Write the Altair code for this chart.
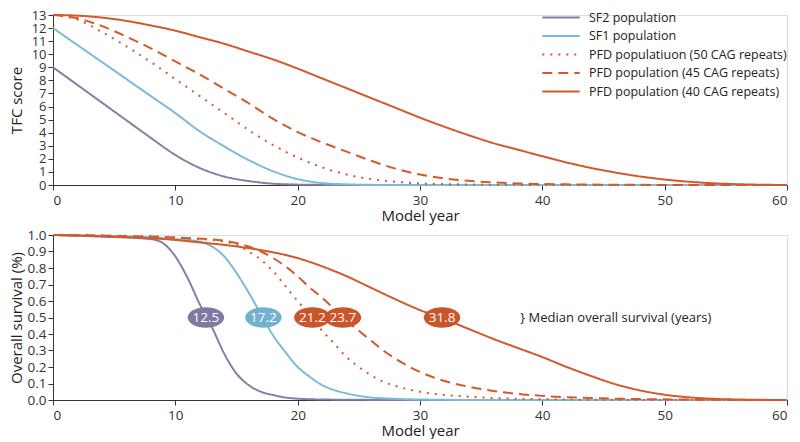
import altair as alt
import pandas as pd

FONT = "Open Sans"

series_names = [
    "SF2 population",
    "SF1 population",
    "PFD populatiuon (50 CAG repeats)",
    "PFD population (45 CAG repeats)",
    "PFD population (40 CAG repeats)",
]
series_colors = ["#857fa6", "#79bbd8", "#d3592b", "#d3592b", "#d3592b"]
series_dashes = [[1, 0], [1, 0], [2, 6], [10, 6], [1, 0]]

# ---- TFC score (top panel) ----
tfc_years = [0, 2, 4, 6, 8, 10, 12, 14, 16, 18, 20, 22, 24, 26, 28, 30,
             32, 34, 36, 38, 40, 42, 44, 46, 48, 50, 52, 54, 56, 58, 60]
tfc_sf2 = [9.0, 7.65, 6.3, 4.95, 3.6, 2.3, 1.3, 0.65, 0.3, 0.1, 0.03, 0.01, 0, 0, 0, 0,
           0, 0, 0, 0, 0, 0, 0, 0, 0, 0, 0, 0, 0, 0, 0]
tfc_sf1 = [12.0, 10.7, 9.4, 8.1, 6.8, 5.5, 4.1, 2.95, 1.9, 1.05, 0.45, 0.15, 0.05, 0.01, 0, 0,
           0, 0, 0, 0, 0, 0, 0, 0, 0, 0, 0, 0, 0, 0, 0]
tfc_pfd50 = [13.0, 12.65, 11.7, 10.6, 9.4, 8.1, 6.8, 5.5, 4.2, 3.05, 2.1, 1.35, 0.8, 0.45, 0.25, 0.12,
             0.07, 0.04, 0.02, 0.01, 0.005, 0, 0, 0, 0, 0, 0, 0, 0, 0, 0]
tfc_pfd45 = [13.0, 12.75, 12.15, 11.35, 10.45, 9.45, 8.45, 7.35, 6.25, 5.05, 4.05, 3.25, 2.55, 1.85, 1.25, 0.8,
             0.5, 0.32, 0.2, 0.12, 0.08, 0.05, 0.03, 0.02, 0.01, 0.005, 0, 0, 0, 0, 0]
tfc_pfd40 = [13.0, 12.95, 12.8, 12.55, 12.2, 11.8, 11.3, 10.8, 10.2, 9.6, 8.9, 8.15, 7.4, 6.65, 5.9, 5.15,
             4.45, 3.8, 3.2, 2.7, 2.2, 1.72, 1.3, 0.95, 0.65, 0.42, 0.25, 0.13, 0.06, 0.02, 0.0]

# ---- Overall survival (bottom panel) ----
os_years_sf2 = [0, 4, 8, 9, 10, 11, 12, 13, 14, 15, 16, 17, 18, 19, 20, 22, 25, 30, 60]
os_sf2 = [1.0, 0.99, 0.975, 0.95, 0.87, 0.74, 0.58, 0.44, 0.28, 0.16, 0.09, 0.05, 0.03, 0.015, 0.008, 0.003, 0.001, 0, 0]

os_years_sf1 = [0, 4, 8, 10, 12, 13, 14, 15, 16, 17, 18, 19, 20, 21, 22, 23, 24, 26, 28, 30, 35, 60]
os_sf1 = [1.0, 0.995, 0.985, 0.975, 0.96, 0.93, 0.87, 0.77, 0.65, 0.52, 0.39, 0.29, 0.2, 0.14, 0.09, 0.06, 0.04, 0.015, 0.007, 0.003, 0, 0]

os_years_pfd50 = [0, 5, 10, 12, 14, 15, 16, 17, 18, 19, 20, 21, 22, 23, 24, 25, 26, 27, 28, 30, 32, 34, 36, 40, 45, 60]
os_pfd50 = [1.0, 0.995, 0.985, 0.975, 0.96, 0.94, 0.9, 0.85, 0.78, 0.69, 0.6, 0.51, 0.42, 0.34, 0.26, 0.2, 0.15, 0.11, 0.085, 0.05, 0.03, 0.02, 0.012, 0.005, 0.001, 0]

os_years_pfd45 = [0, 5, 10, 14, 16, 17, 18, 19, 20, 21, 22, 23, 24, 25, 26, 27, 28, 30, 32, 34, 36, 38, 40, 45, 50, 55, 60]
os_pfd45 = [1.0, 0.995, 0.985, 0.965, 0.93, 0.9, 0.86, 0.81, 0.75, 0.68, 0.62, 0.55, 0.48, 0.42, 0.36, 0.3, 0.25, 0.17, 0.115, 0.08, 0.055, 0.037, 0.025, 0.01, 0.004, 0.001, 0]

os_years_pfd40 = [0, 5, 10, 12, 14, 16, 18, 20, 22, 24, 26, 28, 30, 32, 34, 36, 38, 40, 42, 44, 46, 48, 50, 52, 54, 56, 58, 60]
os_pfd40 = [1.0, 0.99, 0.97, 0.955, 0.94, 0.92, 0.895, 0.86, 0.81, 0.75, 0.68, 0.61, 0.545, 0.49, 0.43, 0.37, 0.315, 0.26, 0.2, 0.145, 0.095, 0.058, 0.032, 0.016, 0.007, 0.003, 0.001, 0]

median_values = [12.5, 17.2, 21.2, 23.7, 31.8]
median_labels = ["12.5", "17.2", "21.2", "23.7", "31.8"]
annotation_text = "} Median overall survival (years)"
annotation_x = 38.2

x_ticks = [0, 10, 20, 30, 40, 50, 60]
tfc_ticks = list(range(0, 14))
os_ticks = [0.0, 0.1, 0.2, 0.3, 0.4, 0.5, 0.6, 0.7, 0.8, 0.9, 1.0]

# ---- build tables ----
tfc_rows = []
for name, vals in zip(series_names, [tfc_sf2, tfc_sf1, tfc_pfd50, tfc_pfd45, tfc_pfd40]):
    for yr, v in zip(tfc_years, vals):
        tfc_rows.append({"year": yr, "value": v, "series": name})
tfc_df = pd.DataFrame(tfc_rows)

os_rows = []
for name, yrs, vals in zip(series_names,
                           [os_years_sf2, os_years_sf1, os_years_pfd50, os_years_pfd45, os_years_pfd40],
                           [os_sf2, os_sf1, os_pfd50, os_pfd45, os_pfd40]):
    for yr, v in zip(yrs, vals):
        os_rows.append({"year": yr, "value": v, "series": name})
os_df = pd.DataFrame(os_rows)

med_df = pd.DataFrame({"year": median_values, "value": [0.5] * 5,
                       "label": median_labels, "series": series_names})
ann_df = pd.DataFrame({"year": [annotation_x], "value": [0.5], "text": [annotation_text]})

W = 734
H_TOP = 170
H_BOT = 165
AX_COL = "#333333"
TICK_FS = 13.5

def x_enc():
    return alt.X("year:Q", scale=alt.Scale(domain=[0, 60], nice=False),
                 axis=alt.Axis(values=x_ticks, title="Model year", grid=False,
                               tickSize=5, labelPadding=3, titlePadding=2,
                               labelFontSize=TICK_FS, titleFontSize=15, titleFontWeight="normal",
                               labelFont=FONT, titleFont=FONT, labelOverlap=False,
                               domainColor=AX_COL, tickColor=AX_COL,
                               labelColor=AX_COL, titleColor="#222222"))

def y_axis(title, values, h, fmt, fs):
    return alt.Axis(values=values, title=title, grid=False, format=fmt,
                    tickSize=5, labelPadding=2, labelOverlap=False,
                    labelFontSize=fs, titleFontSize=15, titleFontWeight="normal",
                    labelFont=FONT, titleFont=FONT,
                    domainColor=AX_COL, tickColor=AX_COL,
                    labelColor=AX_COL, titleColor="#222222",
                    titleX=-37, titleY=h / 2, titleAngle=-90,
                    titleBaseline="middle", titleAlign="center")

legend_kw = dict(title=None, orient="none", legendX=488, legendY=-6,
                 symbolType="stroke", symbolSize=1400, symbolStrokeWidth=2,
                 labelFontSize=12.5, labelFont=FONT, labelColor="#222222",
                 labelOffset=8, rowPadding=1.5, clipHeight=17, labelLimit=400)

color_top = alt.Color("series:N", scale=alt.Scale(domain=series_names, range=series_colors),
                      legend=alt.Legend(**legend_kw))
dash_top = alt.StrokeDash("series:N", scale=alt.Scale(domain=series_names, range=series_dashes),
                          legend=alt.Legend(**legend_kw))

top = alt.Chart(tfc_df).mark_line(strokeWidth=2, interpolate="monotone").encode(
    x=x_enc(),
    y=alt.Y("value:Q", scale=alt.Scale(domain=[0, 13], nice=False),
            axis=y_axis("TFC score", tfc_ticks, H_TOP, "d", 13)),
    color=color_top,
    strokeDash=dash_top,
    order=alt.Order("year:Q"),
).properties(width=W, height=H_TOP)

color_bot = alt.Color("series:N", scale=alt.Scale(domain=series_names, range=series_colors), legend=None)
dash_bot = alt.StrokeDash("series:N", scale=alt.Scale(domain=series_names, range=series_dashes), legend=None)

def y_bot():
    return alt.Y("value:Q", scale=alt.Scale(domain=[0, 1], nice=False),
                 axis=y_axis("Overall survival (%)", os_ticks, H_BOT, ".1f", TICK_FS))

bot_lines = alt.Chart(os_df).mark_line(strokeWidth=2, interpolate="monotone").encode(
    x=x_enc(), y=y_bot(), color=color_bot, strokeDash=dash_bot, order=alt.Order("year:Q"),
)

ellipse_path = "M-1,0 A1,0.56 0 1,0 1,0 A1,0.56 0 1,0 -1,0 Z"
ellipse_colors = ["#7e79a0", "#72b2cf", "#c9552a", "#c9552a", "#c9552a"]

bot_ell = alt.Chart(med_df).mark_point(shape=ellipse_path, filled=True, opacity=1,
                                       size=1330, strokeWidth=0).encode(
    x=x_enc(), y=y_bot(),
    fill=alt.Fill("series:N", scale=alt.Scale(domain=series_names, range=ellipse_colors), legend=None),
)
bot_lab = alt.Chart(med_df).mark_text(color="white", fontSize=13.5, font=FONT).encode(
    x=x_enc(), y=y_bot(), text="label:N")
bot_ann = alt.Chart(ann_df).mark_text(color="#222222", fontSize=13, font=FONT, align="left").encode(
    x=x_enc(), y=y_bot(), text="text:N")

bottom = alt.layer(bot_lines, bot_ell, bot_lab, bot_ann).properties(width=W, height=H_BOT)

chart = alt.vconcat(top, bottom, spacing=3).resolve_scale(
    color="independent", strokeDash="independent"
).resolve_legend(color="independent", strokeDash="independent").properties(
    padding={"left": 0, "top": 0, "right": 0, "bottom": 0}
).configure_view(stroke=None).configure(background="white")

chart.save("out.html", embed_options={"renderer": "svg", "actions": False})
